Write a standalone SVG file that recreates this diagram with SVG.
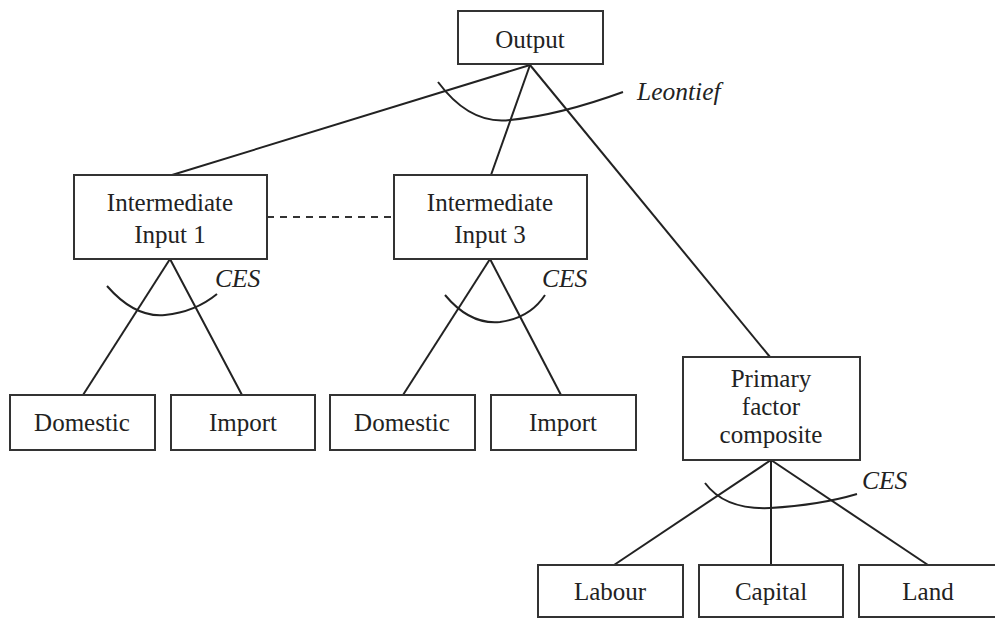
<svg xmlns="http://www.w3.org/2000/svg" width="995" height="619" viewBox="0 0 995 619">
<style>
.box{fill:#fff;stroke:#333;stroke-width:2}
.t{font-family:"Liberation Serif","Times New Roman",serif;font-size:25px;fill:#222;text-anchor:middle}
.i{font-family:"Liberation Serif","Times New Roman",serif;font-size:25.5px;font-style:italic;fill:#222}
.ln{stroke:#222;stroke-width:2;fill:none}
.dash{stroke:#333;stroke-width:2;stroke-dasharray:7,6;fill:none}
</style>
<rect width="995" height="619" fill="#fff"/>
<g id="connectors">
<line class="ln" x1="530" y1="65" x2="172" y2="175"/>
<line class="ln" x1="530" y1="65" x2="491" y2="175"/>
<line class="ln" x1="530" y1="65" x2="770" y2="357"/>
<path class="ln" d="M438,82 Q470,125 510,120 Q560,115 623,92"/>
<line class="dash" x1="267" y1="217" x2="394" y2="217"/>
<line class="ln" x1="170" y1="259" x2="83" y2="395"/>
<line class="ln" x1="170" y1="259" x2="242" y2="395"/>
<path class="ln" d="M107,286 Q135,318 165,315 Q195,312 217,294"/>
<line class="ln" x1="490" y1="259" x2="403" y2="395"/>
<line class="ln" x1="490" y1="259" x2="561" y2="395"/>
<path class="ln" d="M445,295 Q470,325 500,322 Q530,318 545,295"/>
<line class="ln" x1="771" y1="460" x2="614" y2="565"/>
<line class="ln" x1="771" y1="460" x2="771" y2="565"/>
<line class="ln" x1="771" y1="460" x2="928" y2="565"/>
<path class="ln" d="M705,483 Q725,510 770,508 Q820,505 857,494"/>
</g>
<g id="labels">
<text class="i" x="637" y="100">Leontief</text>
<text class="i" x="215" y="287">CES</text>
<text class="i" x="542" y="287">CES</text>
<text class="i" x="862" y="489">CES</text>
</g>
<g id="output"><rect class="box" x="458" y="11" width="145" height="53"/><text class="t" x="530" y="48">Output</text></g>
<g id="input1"><rect class="box" x="74" y="175" width="193" height="84"/><text class="t" x="170" y="211">Intermediate</text><text class="t" x="170" y="243">Input 1</text></g>
<g id="input3"><rect class="box" x="394" y="175" width="193" height="84"/><text class="t" x="490" y="211">Intermediate</text><text class="t" x="490" y="243">Input 3</text></g>
<g id="domestic1"><rect class="box" x="10" y="395" width="145" height="55"/><text class="t" x="82" y="431">Domestic</text></g>
<g id="import1"><rect class="box" x="171" y="395" width="144" height="55"/><text class="t" x="243" y="431">Import</text></g>
<g id="domestic3"><rect class="box" x="330" y="395" width="145" height="55"/><text class="t" x="402" y="431">Domestic</text></g>
<g id="import3"><rect class="box" x="491" y="395" width="145" height="55"/><text class="t" x="563" y="431">Import</text></g>
<g id="primary"><rect class="box" x="683" y="357" width="177" height="103"/><text class="t" x="771" y="387">Primary</text><text class="t" x="771" y="415">factor</text><text class="t" x="771" y="443">composite</text></g>
<g id="labour"><rect class="box" x="538" y="565" width="145" height="52"/><text class="t" x="610" y="600">Labour</text></g>
<g id="capital"><rect class="box" x="699" y="565" width="144" height="52"/><text class="t" x="771" y="600">Capital</text></g>
<g id="land"><rect class="box" x="859" y="565" width="150" height="52"/><text class="t" x="928" y="600">Land</text></g>
</svg>
